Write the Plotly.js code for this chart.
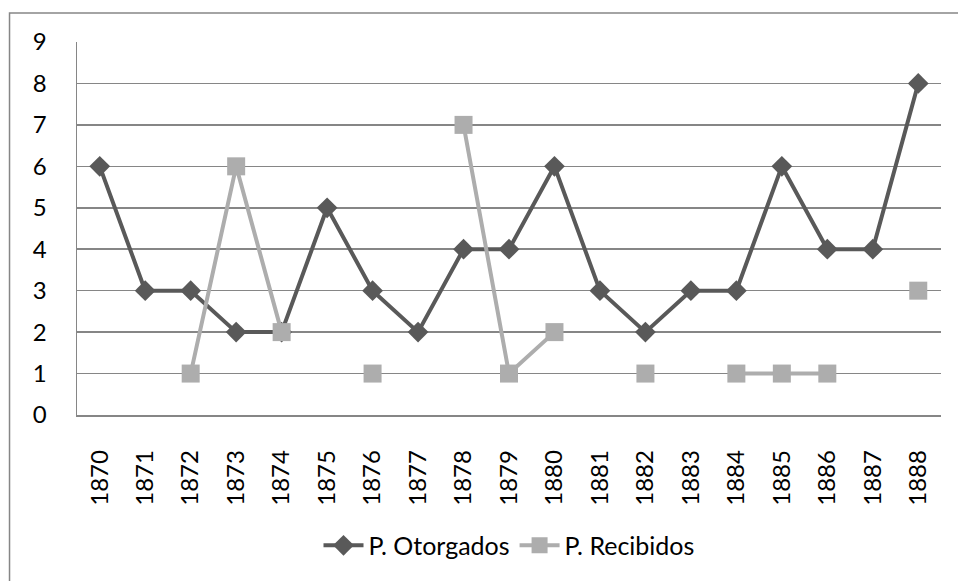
<!DOCTYPE html>
<html>
<head>
<meta charset="utf-8">
<script src="https://cdn.plot.ly/plotly-3.0.1.min.js"></script>
<style>
  html, body { margin: 0; padding: 0; background: #fff; }
  #chart { width: 958px; height: 581px; }
</style>
</head>
<body>
<div id="chart"></div>
<script>
const years = ['1870', '1871', '1872', '1873', '1874', '1875', '1876', '1877', '1878', '1879',
  '1880', '1881', '1882', '1883', '1884', '1885', '1886', '1887', '1888'];
const otorgados = [6, 3, 3, 2, 2, 5, 3, 2, 4, 4, 6, 3, 2, 3, 3, 6, 4, 4, 8];
const recibidos = [null, null, 1, 6, 2, null, 1, null, 7, 1, 2, null, 1, null, 1, 1, 1, null, 3];

const font = 'Lato, "Open Sans", sans-serif';

const traceOtorgados = {
  x: years,
  y: otorgados,
  type: 'scatter',
  mode: 'lines+markers',
  name: 'P. Otorgados',
  line: { color: '#595959', width: 4 },
  marker: { symbol: 'diamond', size: 16, color: '#595959' }
};

const traceRecibidos = {
  x: years,
  y: recibidos,
  type: 'scatter',
  mode: 'lines+markers',
  name: 'P. Recibidos',
  connectgaps: false,
  line: { color: '#adadad', width: 4 },
  marker: { symbol: 'square', size: 18, color: '#adadad' }
};

const layout = {
  width: 958,
  height: 581,
  margin: { l: 77, r: 17, t: 42, b: 165.5 },
  paper_bgcolor: '#fff',
  plot_bgcolor: '#fff',
  font: { family: font, size: 25, color: '#000' },
  showlegend: true,
  legend: {
    orientation: 'h',
    x: 0.5,
    xanchor: 'center',
    y: -0.35,
    yanchor: 'middle',
    itemwidth: 40,
    font: { family: font, size: 25, color: '#000' }
  },
  xaxis: {
    type: 'category',
    tickangle: -90,
    tickfont: { size: 24 },
    showgrid: false,
    showline: true,
    linecolor: '#868686',
    linewidth: 1.5,
    ticks: 'outside',
    ticklen: 24,
    tickcolor: 'rgba(0,0,0,0)',
    range: [-0.5, 18.5],
    zeroline: false
  },
  yaxis: {
    range: [0, 9],
    dtick: 1,
    tickfont: { size: 24 },
    showgrid: true,
    gridcolor: '#868686',
    gridwidth: 1.5,
    showline: true,
    linecolor: '#868686',
    linewidth: 1.5,
    zeroline: false,
    ticks: 'outside',
    ticklen: 24,
    tickcolor: 'rgba(0,0,0,0)'
  },
  shapes: [{
    type: 'rect',
    xref: 'paper',
    yref: 'paper',
    x0: -0.0781, x1: 1.1,
    y0: -0.6, y1: 1.0777,
    line: { color: '#868686', width: 1.5 },
    fillcolor: 'rgba(0,0,0,0)',
    layer: 'below'
  }]
};

Plotly.newPlot('chart', [traceOtorgados, traceRecibidos], layout, { displayModeBar: false, staticPlot: true });
</script>
</body>
</html>
